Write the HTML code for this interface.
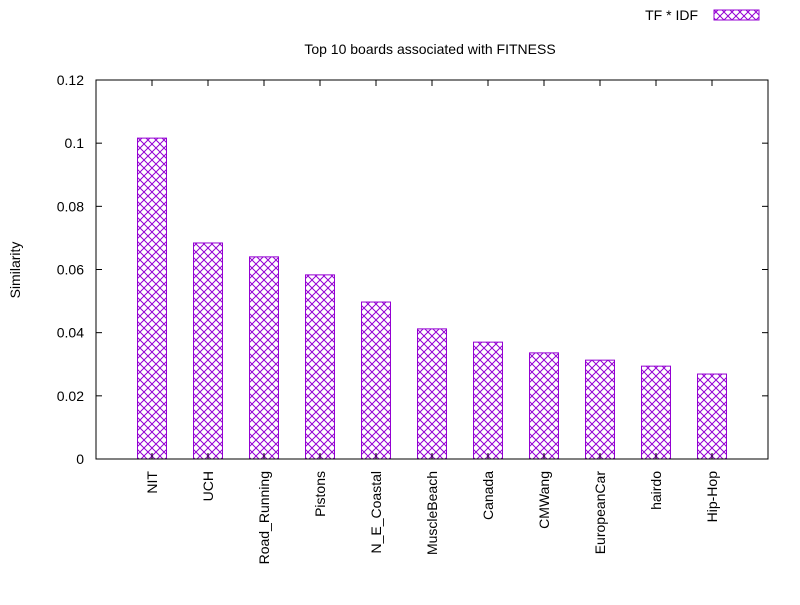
<!DOCTYPE html>
<html><head><meta charset="utf-8"><style>
body{margin:0;background:#fff}
svg text{font-family:"Liberation Sans",sans-serif;font-size:14px;fill:#000}
</style></head><body>
<svg id="c" width="800" height="600" xmlns="http://www.w3.org/2000/svg">
<defs>
<pattern id="hatch" patternUnits="userSpaceOnUse" width="8" height="8">
<path d="M0,0 L8,8 M8,0 L0,8" stroke="#9400d3" stroke-width="1" fill="none"/>
</pattern>
</defs>
<g id="g"></g>
</svg>
<script>
const categories=["NIT","UCH","Road_Running","Pistons","N_E_Coastal","MuscleBeach","Canada","CMWang","EuropeanCar","hairdo","Hip-Hop"];
const values=[0.1016,0.0684,0.0640,0.0583,0.0497,0.0412,0.0370,0.0336,0.0313,0.0294,0.0269];
const yTicks=[0,0.02,0.04,0.06,0.08,0.1,0.12];
const yTickLabels=["0","0.02","0.04","0.06","0.08","0.1","0.12"];
const L=96,R=768,T=80,B=459;
const ns="http://www.w3.org/2000/svg";
const g=document.getElementById('g');
function y(v){return B-(v/0.12)*(B-T);}
function x(i){return L+(i+1)*(R-L)/(categories.length+1);}
function mk(t,a,txt){const e=document.createElementNS(ns,t);for(const k in a)e.setAttribute(k,a[k]);if(txt!==undefined)e.textContent=txt;g.appendChild(e);return e;}
yTicks.forEach((v,i)=>{
 const t=mk('line',{x1:L,x2:L+6,y1:y(v),y2:y(v),stroke:'#000'});
 
 
 const t2=mk('line',{x1:R-6,x2:R,y1:y(v),y2:y(v),stroke:'#000'});
 
 
 const l=mk('text',{x:L-12,y:y(v)+5,'text-anchor':'end'},yTickLabels[i]);
 
 
});
categories.forEach((c,i)=>{
 const cx=x(i);
 const b=mk('rect',{x:cx-14.5,y:y(values[i]),width:29,height:B-y(values[i]),fill:'url(#hatch)',stroke:'#9400d3','stroke-width':1});
 
 
 const t=mk('line',{x1:cx,x2:cx,y1:B,y2:B-6,stroke:'#000'});
 
 
 const t2=mk('line',{x1:cx,x2:cx,y1:T,y2:T+6,stroke:'#000'});
 
 
 const l=mk('text',{x:0,y:0,'text-anchor':'end',transform:`translate(${cx+5},${B+12}) rotate(-90)`},c);
 
 
});
const f=mk('rect',{x:L,y:T,width:R-L,height:B-T,fill:'none',stroke:'#000'});


const ti=mk('text',{x:430,y:54,'text-anchor':'middle'},'Top 10 boards associated with FITNESS');


const yl=mk('text',{x:0,y:0,'text-anchor':'middle',transform:'translate(20,270) rotate(-90)'},'Similarity');


const lt=mk('text',{x:698,y:20,'text-anchor':'end'},'TF * IDF');


const ls=mk('rect',{x:714,y:10,width:45,height:10,fill:'url(#hatch)',stroke:'#9400d3'});


</script>
</body></html>
